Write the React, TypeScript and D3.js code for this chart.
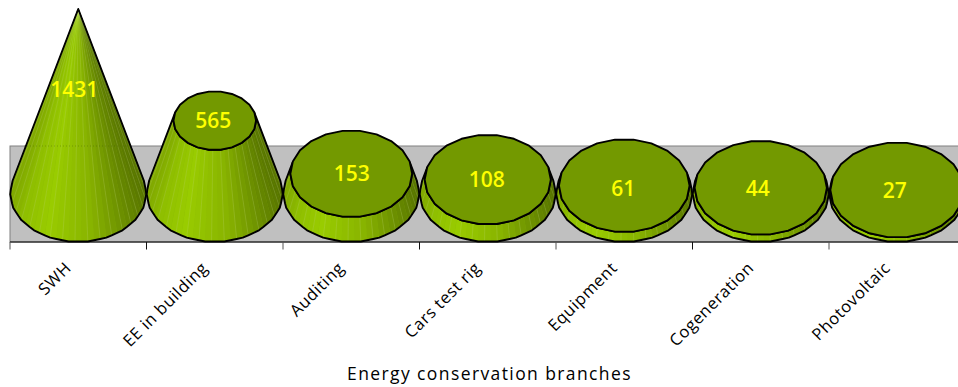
import React from "react";
import * as d3 from "d3";

const branches = ["SWH", "EE in building", "Auditing", "Cars test rig", "Equipment", "Cogeneration", "Photovoltaic"];
const projects = [1431, 565, 153, 108, 61, 44, 27];
const axisTitle = "Energy conservation branches";

const WIDTH = 958;
const HEIGHT = 387;
const BAND_TOP = 146;
const BAND_BOTTOM = 242;
const BASE_Y = 193.5;
const APEX_Y = 9;
const BASE_RX = 68.2;
const BASE_RY = 48.5;
const OUTLINE_SEGMENTS = 22;
const FACETS_PER_SEGMENT = 3;

const x = d3.scaleBand<string>().domain(branches).range([10, 965.5]).paddingInner(0).paddingOuter(0);
const y = d3.scaleLinear().domain([0, 1431]).range([BASE_Y, APEX_Y]);

// Shade of the lit side, from the left silhouette (0) to the right one (1).
const shade = d3
  .scaleLinear<string>()
  .domain([0, 0.1, 0.27, 0.6, 0.85, 1])
  .range(["#80a800", "#8fbf00", "#99cc00", "#88b300", "#6b8e00", "#587400"]);

// Coarse polygon vertices give the ellipses their slightly faceted outline.
function ellipsePoint(angle: number, rx: number, ry: number, cy: number, cx: number): [number, number] {
  const step = (Math.PI * 2) / OUTLINE_SEGMENTS;
  const k = Math.floor(angle / step);
  const f = angle / step - k;
  const ax = cx + rx * Math.cos(k * step);
  const ay = cy + ry * Math.sin(k * step);
  const bx = cx + rx * Math.cos((k + 1) * step);
  const by = cy + ry * Math.sin((k + 1) * step);
  return [ax + (bx - ax) * f, ay + (by - ay) * f];
}

const line = d3.line();

function Cone({ name, value }: { name: string; value: number }) {
  const cx = (x(name) as number) + x.bandwidth() / 2;
  const topY = y(value);
  const k = 1 - value / 1431;
  const start = -Math.asin(BASE_RY / (BASE_Y - APEX_Y));
  const end = Math.PI - start;
  const count = Math.round(((end - start) / (Math.PI * 2)) * OUTLINE_SEGMENTS * FACETS_PER_SEGMENT);
  const angles = d3.range(count + 1).map((i) => start + ((end - start) * i) / count);
  const base = angles.map((a) => ellipsePoint(a + Math.PI * 2, BASE_RX, BASE_RY, BASE_Y, cx));
  const top = angles.map((a) => ellipsePoint(a + Math.PI * 2, BASE_RX * k, BASE_RY * k, topY, cx));
  const rim = d3
    .range(OUTLINE_SEGMENTS)
    .map((i) => ellipsePoint((i / OUTLINE_SEGMENTS) * Math.PI * 2, BASE_RX * k, BASE_RY * k, topY, cx));
  const body = [...base, ...top.slice().reverse()];
  return (
    <g>
      <path d={line(body) + "Z"} fill="#88b300" />
      {angles.slice(1).map((_, i) => {
        const facet = [base[i], base[i + 1], top[i + 1], top[i]] as [number, number][];
        const pos = ((base[i][0] + base[i + 1][0]) / 2 - (cx - BASE_RX)) / (2 * BASE_RX);
        return <path key={i} d={line(facet) + "Z"} fill={shade(pos)} stroke={shade(pos)} strokeWidth={0.3} />;
      })}
      {angles.map((_, i) =>
        i % 2 === 0 && i > 0 && i < count ? (
          <path key={i} d={line([base[i], top[i]]) as string} stroke="#ffffff" strokeOpacity={0.14} strokeWidth={0.8} />
        ) : null,
      )}
      <path d={line(body) + "Z"} fill="none" stroke="#000" strokeWidth={1.9} strokeLinejoin="round" />
      {value < 1431 && <path d={line(rim) + "Z"} fill="#739900" stroke="#000" strokeWidth={1.9} strokeLinejoin="round" />}
    </g>
  );
}

export default function App() {
  const labelShift = [-4, -1.5, 0.5, -1, -1, -3, -2.5];
  const labelDrop = [0, 0, 0, 0, 3, 1, 0];
  const tickEdges = [...branches.map((b) => x(b) as number), 965.5];
  return (
    <svg
      width={WIDTH}
      height={HEIGHT}
      viewBox={`0 0 ${WIDTH} ${HEIGHT}`}
      style={{ position: "absolute", left: 0, top: 0, background: "#fff" }}
      fontFamily="'Open Sans', sans-serif"
    >
      <rect x={10} y={BAND_TOP} width={970} height={BAND_BOTTOM - BAND_TOP} fill="#c0c0c0" stroke="#808080" strokeWidth={1} />
      <line x1={10} x2={WIDTH} y1={BAND_BOTTOM} y2={BAND_BOTTOM} stroke="#000" strokeWidth={1} />
      {tickEdges.map((t, i) => (
        <line key={i} x1={t} x2={t} y1={BAND_BOTTOM} y2={249.5} stroke={i % 2 === 0 ? "#555" : "#111"} strokeWidth={1} />
      ))}
      {branches.map((b, i) => (
        <Cone key={b} name={b} value={projects[i]} />
      ))}
      <line x1={24} x2={130} y1={BAND_TOP} y2={BAND_TOP} stroke="#3c5000" strokeOpacity={0.35} strokeDasharray="1 2" />
      {branches.map((b, i) => {
        const cx = (x(b) as number) + x.bandwidth() / 2;
        return (
          <text
            key={b}
            x={cx + labelShift[i]}
            y={Math.max(y(projects[i]), 89) + labelDrop[i]}
            dy="0.36em"
            textAnchor="middle"
            fontSize={21}
            fontWeight={600}
            fill="#ffff00"
          >
            {projects[i]}
          </text>
        );
      })}
      {branches.map((b) => {
        const cx = (x(b) as number) + x.bandwidth() / 2;
        return (
          <text
            key={b}
            transform={`translate(${cx - 6},${269}) rotate(-45)`}
            textAnchor="end"
            fontSize={16.5}
            letterSpacing={0.6}
            fill="#000"
          >
            {b}
          </text>
        );
      })}
      <text x={489.5} y={380} textAnchor="middle" fontSize={17.5} letterSpacing={1.4} fill="#000">
        {axisTitle}
      </text>
    </svg>
  );
}
